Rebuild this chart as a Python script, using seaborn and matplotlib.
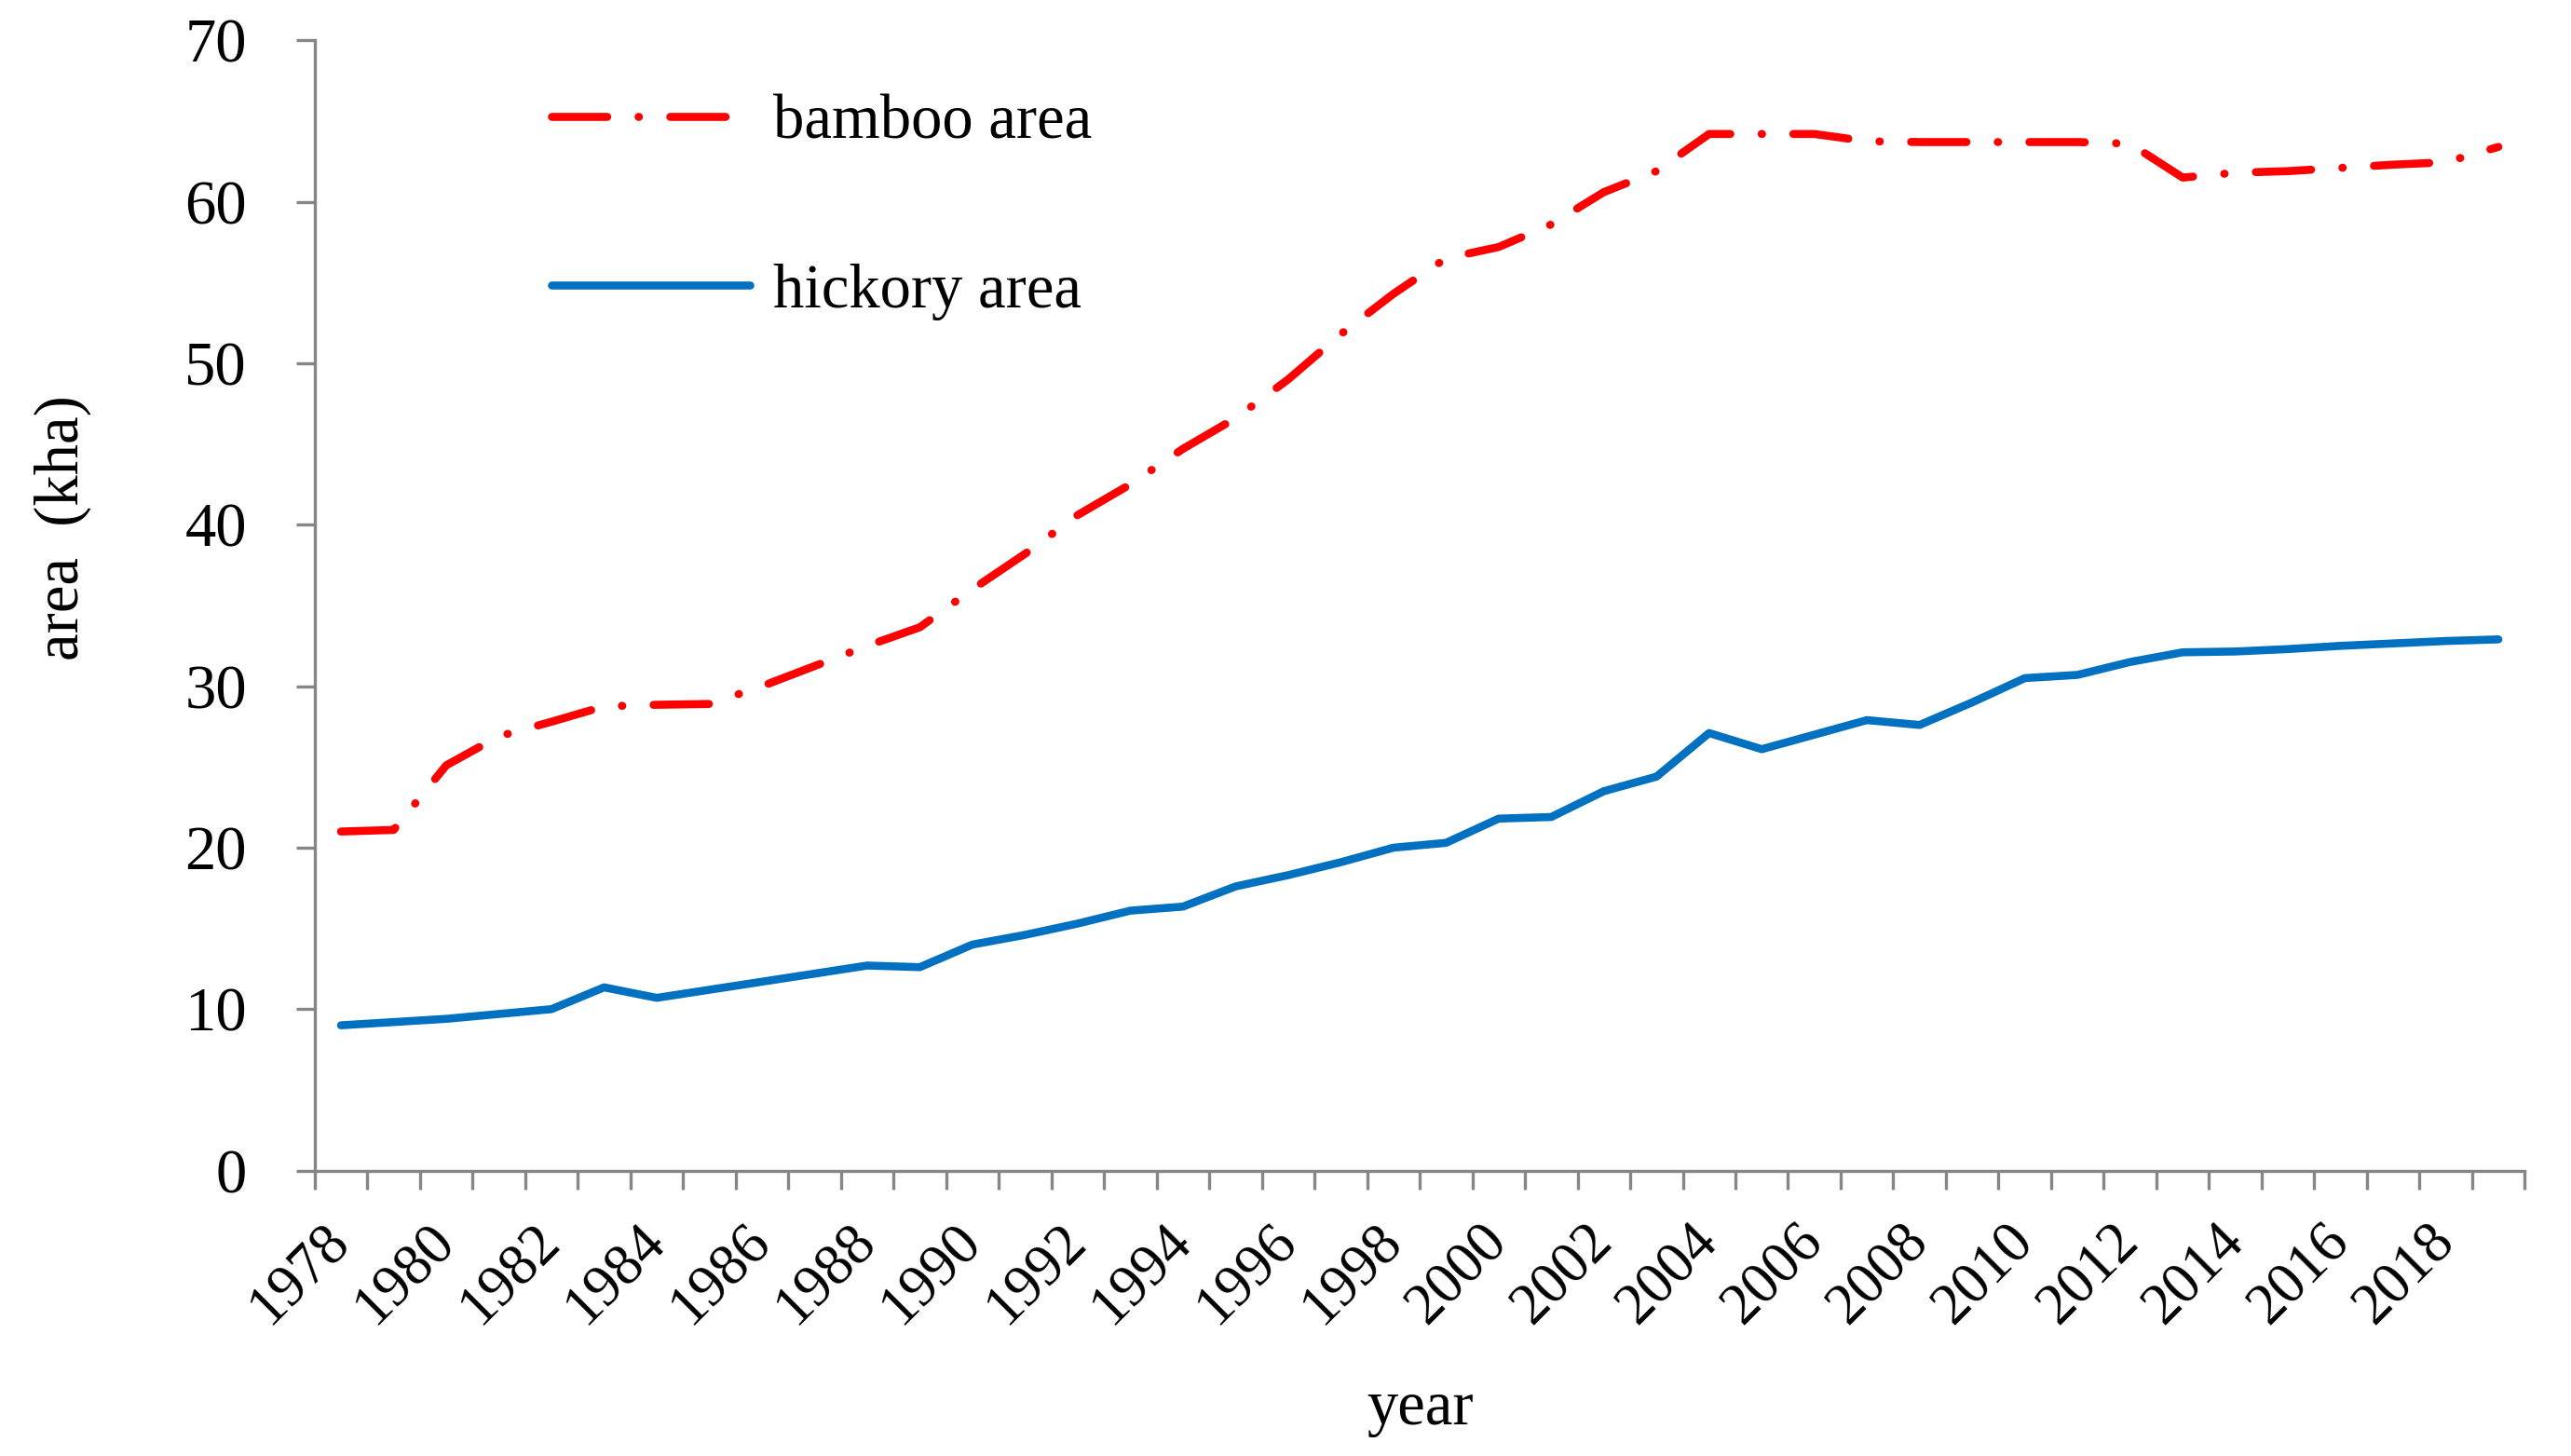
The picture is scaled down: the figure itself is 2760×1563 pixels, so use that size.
import numpy as np
import pandas as pd
import matplotlib
matplotlib.use("Agg")
import matplotlib.pyplot as plt
import matplotlib.transforms as mtransforms
from matplotlib.ticker import FixedLocator
import seaborn as sns

# 数据
years = list(range(1978, 2020))
bamboo_area = [21.0, 21.1, 25.1, 26.9, 27.8, 28.75, 28.85, 28.9, 30.0, 31.25,
               32.5, 33.65, 36.0, 38.2, 40.6, 42.5, 44.7, 46.6, 49.0, 51.8,
               54.3, 56.5, 57.2, 58.6, 60.6, 61.9, 64.2, 64.2, 64.2, 63.75,
               63.7, 63.7, 63.7, 63.7, 63.6, 61.5, 61.8, 61.9, 62.1, 62.3,
               62.45, 63.4]
hickory_area = [9.0, 9.2, 9.4, 9.7, 10.0, 11.35, 10.7, 11.2, 11.7, 12.2,
                12.7, 12.6, 14.0, 14.6, 15.3, 16.1, 16.35, 17.6, 18.3, 19.1,
                20.0, 20.3, 21.8, 21.9, 23.5, 24.4, 27.1, 26.1, 27.0, 27.9,
                27.6, 29.0, 30.5, 30.7, 31.5, 32.1, 32.15, 32.3, 32.5, 32.65,
                32.8, 32.9]
year_labels = [str(y) for y in years[::2]]
y_ticks = [0, 10, 20, 30, 40, 50, 60, 70]

sns.set_theme(style="white")
plt.rcParams['font.family'] = ['Liberation Serif', 'DejaVu Serif']
plt.rcParams['text.color'] = 'black'
plt.rcParams['axes.labelcolor'] = 'black'
plt.rcParams['xtick.color'] = 'black'
plt.rcParams['ytick.color'] = 'black'

AXIS_GREY = '#868686'
FS = 48
FS_X = 45
LW = 6.2

fig = plt.figure(figsize=(27.6, 15.63), dpi=100)
ax = fig.add_axes([0.1224, 0.196, 0.982 - 0.1224, 0.9723 - 0.196])

df = pd.DataFrame({'year': years, 'bamboo': bamboo_area, 'hickory': hickory_area})

# 竹林面积：点划线
sns.lineplot(data=df, x='year', y='bamboo', ax=ax, color='#FF0000', linewidth=LW,
             linestyle=(0, (6.9, 3.9, 0.05, 3.9)), dash_capstyle='round',
             label='bamboo area')
# 山核桃面积：实线
sns.lineplot(data=df, x='year', y='hickory', ax=ax, color='#0070C0', linewidth=LW,
             solid_capstyle='round', label='hickory area')

ax.set_xlim(years[0] - 0.5, years[-1] + 0.5)
ax.set_ylim(0, 70)

for side in ['top', 'right']:
    ax.spines[side].set_visible(False)
for side in ['left', 'bottom']:
    ax.spines[side].set_color(AXIS_GREY)
    ax.spines[side].set_linewidth(2.4)

# x 轴：刻度线在类别边界，标签每两年一个
ax.xaxis.set_major_locator(FixedLocator(years[::2]))
ax.xaxis.set_minor_locator(FixedLocator(np.arange(years[0] - 0.5, years[-1] + 1, 1.0)))
ax.set_xticklabels(year_labels, rotation=45, ha='center', va='center',
                   rotation_mode='anchor', fontsize=FS_X)
ax.tick_params(axis='x', which='both', bottom=True)
ax.tick_params(axis='x', which='major', length=0, pad=80)
ax.tick_params(axis='x', which='minor', length=14.5, width=2.4, color=AXIS_GREY,
               direction='out')
offset = mtransforms.ScaledTranslation(-0.44, 0, fig.dpi_scale_trans)
for lab in ax.get_xticklabels():
    lab.set_transform(lab.get_transform() + offset)

ax.set_yticks(y_ticks)
ax.set_yticklabels([str(v) for v in y_ticks], fontsize=FS)
ax.tick_params(axis='y', which='major', left=True, length=14.5, width=2.4,
               color=AXIS_GREY, direction='out', pad=38)

ax.set_xlabel('year', fontsize=FS, labelpad=36)
ax.set_ylabel('area  (kha)', fontsize=FS)
ax.yaxis.set_label_coords(-0.101, 0.569)

ax.legend(loc='upper left', bbox_to_anchor=(0.107, 0.952), frameon=False,
          fontsize=FS, handlelength=3.2, handletextpad=0.37, labelspacing=1.8,
          borderpad=0, borderaxespad=0)

fig.savefig('out.png', dpi=100)
